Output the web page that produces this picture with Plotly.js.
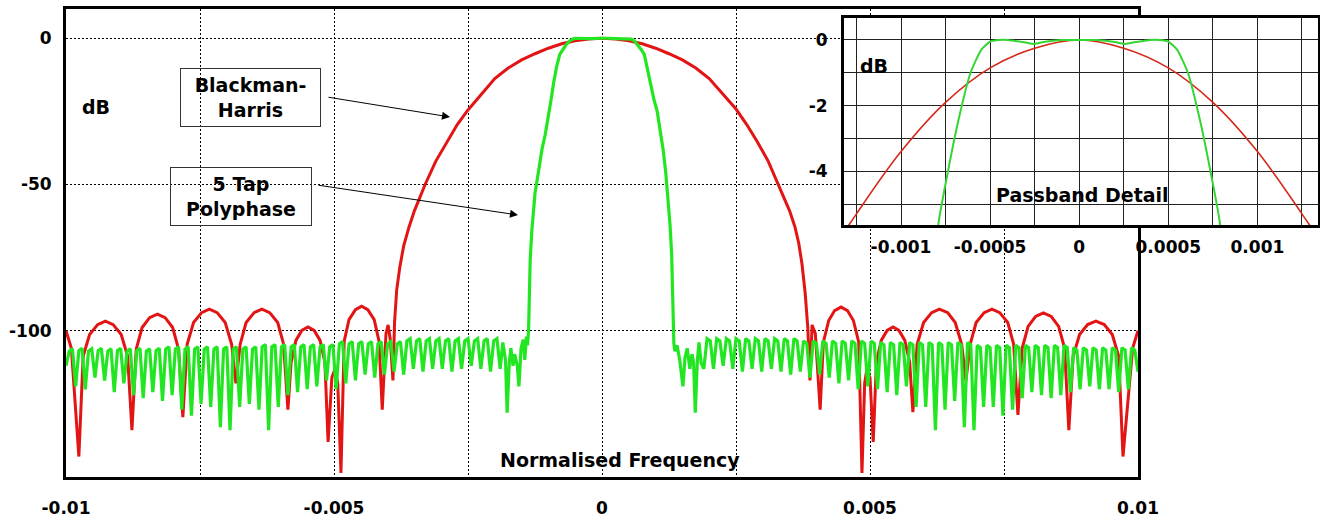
<!DOCTYPE html>
<html>
<head>
<meta charset="utf-8">
<script src="https://cdn.plot.ly/plotly-3.0.1.min.js"></script>
<style>html,body{margin:0;padding:0;background:#fff;}#chart{width:1320px;height:518px;}</style>
</head>
<body>
<div id="chart"></div>
<script>
// ---------------- DATA ----------------
// Blackman-Harris response (dB) vs normalised frequency
const redX = [-0.01, -0.0099, -0.00976,
  -0.00968, -0.00956, -0.00941, -0.009265, -0.00912, -0.00897, -0.00885, -0.00877,
  -0.00869, -0.00858, -0.00844, -0.008295, -0.00815, -0.00801, -0.0079, -0.00782,
  -0.00774, -0.00762, -0.00747, -0.007325, -0.00718, -0.00703, -0.00691, -0.00683,
  -0.00675, -0.00664, -0.00649, -0.006345, -0.0062, -0.00605, -0.00594, -0.00586,
  -0.0058, -0.00571, -0.0056, -0.005485, -0.00537, -0.00526, -0.00517, -0.00511,
  -0.00504, -0.00498, -0.00493, -0.00487,
  -0.00481, -0.00472, -0.0046, -0.004485, -0.00437, -0.00425, -0.00416, -0.0041,
  -0.00403, -0.00399, -0.00395, -0.0039, -0.00387, -0.00383, -0.00377, -0.0037, -0.0036,
  -0.0035, -0.0033, -0.0031, -0.0029, -0.0027, -0.0025, -0.00225, -0.002, -0.00175,
  -0.0015, -0.00125, -0.001, -0.00075, -0.0005, -0.00025, 0,
  0.00025, 0.0005, 0.00075, 0.001, 0.00125, 0.0015, 0.00175, 0.002, 0.00225, 0.0025,
  0.0027, 0.0029, 0.0031, 0.0033, 0.0035, 0.0036, 0.00367, 0.00373, 0.00379, 0.00384,
  0.00388, 0.00392, 0.00398, 0.00407,
  0.00413, 0.00423, 0.00434, 0.00446, 0.00458, 0.00469, 0.00479, 0.00485,
  0.0049, 0.00494, 0.005, 0.00506,
  0.00512, 0.00521, 0.00532, 0.00543, 0.00554, 0.00565, 0.00574, 0.0058,
  0.00588, 0.006, 0.00615, 0.006295, 0.00645, 0.00659, 0.00671, 0.00679,
  0.00687, 0.00698, 0.00713, 0.007275, 0.00742, 0.00757, 0.00768, 0.00776,
  0.00784, 0.00795, 0.00809, 0.008235, 0.00838, 0.00852, 0.00863, 0.00871,
  0.00879, 0.00891, 0.00906, 0.009215, 0.00937, 0.00952, 0.00964, 0.00972,
  0.0099, 0.01];
const redY = [-100, -106, -143,
  -108.7, -101.3, -97.9, -96.7, -97.9, -101.3, -108.7, -134,
  -106.3, -98.9, -95.5, -94.3, -95.5, -98.9, -106.3, -129.5,
  -104.6, -97.2, -93.8, -92.6, -93.8, -97.2, -104.6, -118,
  -104.6, -97.2, -93.8, -92.6, -93.8, -97.2, -104.6, -127,
  -110.7, -103.3, -99.9, -98.7, -99.9, -103.3, -110.7, -138,
  -116, -113, -118, -148.6,
  -103.6, -96.2, -92.8, -91.6, -92.8, -96.2, -103.6, -127,
  -101, -98, -103, -117, -97, -86, -78, -71, -64.5,
  -59, -50, -42, -35.5, -29.5, -24.5, -19, -13.8, -10.2,
  -7.4, -5.3, -3.4, -1.9, -0.85, -0.25, 0,
  -0.25, -0.85, -1.9, -3.4, -5.3, -7.4, -10.2, -13.8, -19, -24.2,
  -29.5, -35.5, -42, -50.5, -59, -64.5, -70, -77, -87, -99,
  -117, -98, -101, -127,
  -103.9, -96.5, -93.1, -91.9, -93.1, -96.5, -103.9, -148.6,
  -118, -113.4, -116, -138,
  -110.7, -103.3, -99.9, -98.7, -99.9, -103.3, -110.7, -127.8,
  -104.6, -97.2, -93.8, -92.6, -93.8, -97.2, -104.6, -117,
  -104.6, -97.2, -93.8, -92.6, -93.8, -97.2, -104.6, -128.8,
  -105.9, -98.5, -95.1, -93.9, -95.1, -98.5, -105.9, -134,
  -108.7, -101.3, -97.9, -96.7, -97.9, -101.3, -108.7, -143,
  -106, -100];

// 5 Tap Polyphase response: left stopband
const greenLeftX = [
  -0.01, -0.00994, -0.00988, -0.00982, -0.00976, -0.0097, -0.00964, -0.00958, -0.00952, -0.00946,
  -0.0094, -0.00934, -0.00928, -0.00922, -0.00916, -0.0091, -0.00904, -0.00898, -0.00892, -0.00886,
  -0.0088, -0.00874, -0.00868, -0.00862, -0.00856, -0.0085, -0.00844, -0.00838, -0.00832, -0.00826,
  -0.0082, -0.00814, -0.00808, -0.00802, -0.00796, -0.0079, -0.00784, -0.00778, -0.00772, -0.00766,
  -0.0076, -0.00754, -0.00748, -0.00742, -0.00736, -0.0073, -0.00724, -0.00718, -0.00712, -0.00706,
  -0.007, -0.00694, -0.00688, -0.00682, -0.00676, -0.0067, -0.00664, -0.00658, -0.00652, -0.00646,
  -0.0064, -0.00634, -0.00628, -0.00622, -0.00616, -0.0061, -0.00604, -0.00598, -0.00592, -0.00586,
  -0.0058, -0.00574, -0.00568, -0.00562, -0.00556, -0.0055, -0.00544, -0.00538, -0.00532, -0.00526,
  -0.0052, -0.00514, -0.00508, -0.00502, -0.00496, -0.0049, -0.00484, -0.00478, -0.00472, -0.00466,
  -0.0046, -0.00454, -0.00448, -0.00442, -0.00436, -0.0043, -0.00424, -0.00418, -0.00412, -0.00406,
  -0.004, -0.00394, -0.00388, -0.00382, -0.00376, -0.0037, -0.00364, -0.00358, -0.00352, -0.00346,
  -0.0034, -0.00334, -0.00328, -0.00322, -0.00316, -0.0031, -0.00304, -0.00298, -0.00292, -0.00286,
  -0.0028, -0.00274, -0.00268, -0.00262, -0.00256, -0.0025, -0.00244, -0.00238, -0.00232, -0.00226,
  -0.0022, -0.00214, -0.00208, -0.00202, -0.00196, -0.0019];
const greenLeftY = [
  -112, -107, -106.2, -119, -106.8, -106, -120, -107, -106.2, -116, -106.8, -106,
  -117, -107, -106.2, -121, -106.8, -106, -118, -107, -106.2, -122, -106.8, -106,
  -123, -107, -106.2, -121, -106.8, -106,
  -124, -106.3, -105.5, -122, -106.3, -105.5, -127, -106.3, -105.5, -129, -106.3, -105.5,
  -125, -106.3, -105.5, -126, -106.3, -105.5, -133, -106.3, -105.5, -134, -106.3, -105.5,
  -126, -106.3, -105.5, -125, -106.3, -105.5,
  -127, -105.5, -104.7, -134, -105.5, -104.7, -126, -105.5, -104.7, -122, -105.5, -104.7,
  -121, -105.5, -104.7, -120, -105.5, -104.7, -119, -105.5, -104.7, -117, -105.5, -104.7,
  -120, -104.5, -103.7, -118, -104.5, -103.7, -117, -104.5, -103.7, -115, -104.5, -103.7,
  -116, -104.5, -103.7, -115, -104.5, -103.7, -114, -104.5, -103.7,
  -115, -103.5, -102.7, -113, -103.5, -102.7, -114, -103.5, -102.7, -113, -103.5, -102.7,
  -113, -103.5, -102.7, -114, -103.5, -102.7, -113, -103.5, -102.7, -112, -103.5, -102.7,
  -113, -103.5, -102.7, -114, -103.5, -102.7,
  -113];

// transition bands and passband
const greenMidX = [
  -0.00185, -0.0018, -0.00177, -0.00173, -0.0017, -0.00166, -0.00163, -0.00158, -0.00155, -0.00151,
  -0.00147, -0.00144, -0.00141, -0.00139, -0.00137, -0.00136, -0.00134, -0.00131, -0.00125, -0.00118,
  -0.00112, -0.00106, -0.001, -0.00095, -0.0009, -0.00085, -0.00079, -0.00074, -0.00068, -0.00061,
  -0.00055, -0.0005, -0.00045, -0.0004, -0.0003, -0.00025, -0.0002, -0.0001, 0, 0.0001,
  0.0002, 0.00025, 0.0003, 0.0004, 0.00045, 0.0005, 0.00055, 0.00061, 0.00068, 0.00074,
  0.00079, 0.00084, 0.0009, 0.00097, 0.00103, 0.00109, 0.00114, 0.00119, 0.00123, 0.00127,
  0.0013, 0.00132, 0.00133, 0.00134, 0.00136, 0.0014, 0.00145, 0.00151, 0.00155, 0.00159,
  0.00164, 0.00168, 0.00171, 0.00174, 0.00178, 0.00181, 0.00185];
const greenMidY = [
  -104, -110, -128, -111, -106, -112, -108, -112, -119, -106,
  -103, -110, -102, -105, -100, -87, -76, -66, -53, -45,
  -38, -33, -27, -21, -15, -10, -5.6, -4.1, -2.5, -1.0,
  -0.3, -0.05, 0, 0, -0.08, -0.12, -0.06, 0, 0, 0,
  -0.06, -0.12, -0.08, 0, 0, -0.05, -0.3, -1.0, -2.5, -4.1,
  -5.6, -10, -16, -21, -25, -32, -38, -46, -54, -64,
  -74, -86, -100, -104, -107, -105, -110, -119, -109, -106,
  -113, -108, -111, -128, -110, -104, -111];

// right stopband
const greenRightX = [
  0.0019, 0.00196, 0.00202, 0.00208, 0.00214, 0.0022, 0.00226, 0.00232, 0.00238, 0.00244,
  0.0025, 0.00256, 0.00262, 0.00268, 0.00274, 0.0028, 0.00286, 0.00292, 0.00298, 0.00304,
  0.0031, 0.00316, 0.00322, 0.00328, 0.00334, 0.0034, 0.00346, 0.00352, 0.00358, 0.00364,
  0.0037, 0.00376, 0.00382, 0.00388, 0.00394, 0.004, 0.00406, 0.00412, 0.00418, 0.00424,
  0.0043, 0.00436, 0.00442, 0.00448, 0.00454, 0.0046, 0.00466, 0.00472, 0.00478, 0.00484,
  0.0049, 0.00496, 0.00502, 0.00508, 0.00514, 0.0052, 0.00526, 0.00532, 0.00538, 0.00544,
  0.0055, 0.00556, 0.00562, 0.00568, 0.00574, 0.0058, 0.00586, 0.00592, 0.00598, 0.00604,
  0.0061, 0.00616, 0.00622, 0.00628, 0.00634, 0.0064, 0.00646, 0.00652, 0.00658, 0.00664,
  0.0067, 0.00676, 0.00682, 0.00688, 0.00694, 0.007, 0.00706, 0.00712, 0.00718, 0.00724,
  0.0073, 0.00736, 0.00742, 0.00748, 0.00754, 0.0076, 0.00766, 0.00772, 0.00778, 0.00784,
  0.0079, 0.00796, 0.00802, 0.00808, 0.00814, 0.0082, 0.00826, 0.00832, 0.00838, 0.00844,
  0.0085, 0.00856, 0.00862, 0.00868, 0.00874, 0.0088, 0.00886, 0.00892, 0.00898, 0.00904,
  0.0091, 0.00916, 0.00922, 0.00928, 0.00934, 0.0094, 0.00946, 0.00952, 0.00958, 0.00964,
  0.0097, 0.00976, 0.00982, 0.00988, 0.00994, 0.01];
const greenRightY = [
  -113, -102.7, -103.5, -113, -102.7, -103.5, -112, -102.7, -103.5, -113, -102.7, -103.5,
  -114, -102.7, -103.5, -113, -102.7, -103.5, -114, -102.7, -103.5, -113, -102.7, -103.5,
  -114, -102.7, -103.5, -115, -102.7, -103.5,
  -114, -103.5, -104.3, -116, -103.5, -104.3, -115, -103.5, -104.3, -116, -103.5, -104.3,
  -118, -103.5, -104.3, -117, -103.5, -104.3, -120, -103.5, -104.3, -119, -103.5, -104.3,
  -120, -104, -104.8, -121, -104, -104.8, -122, -104, -104.8, -119, -104, -104.8,
  -126, -104, -104.8, -126, -104, -104.8, -134, -104, -104.8, -127, -104, -104.8,
  -124, -104, -104.8, -133, -104, -104.8,
  -134, -105, -105.8, -126, -105, -105.8, -126, -105, -105.8, -129, -105, -105.8,
  -127, -105, -105.8, -123, -105, -105.8, -121, -105, -105.8, -122, -105, -105.8,
  -123, -105, -105.8, -122, -105, -105.8,
  -121, -105.8, -106.6, -120, -105.8, -106.6, -119, -105.8, -106.6, -120, -105.8, -106.6,
  -120, -105.8, -106.6, -121, -105.8, -106.6, -120, -105.8, -106.6,
  -114];

// axis ticks and labels
const mainXTicks = [-0.01, -0.0075, -0.005, -0.0025, 0, 0.0025, 0.005, 0.0075, 0.01];
const mainXLabels = ['-0.01', '', '-0.005', '', '0', '', '0.005', '', '0.01'];
const mainYTicks = [-100, -50, 0];
const mainYLabels = ['-100', '-50', '0'];
const insetXTicks = [-0.00125, -0.001, -0.00075, -0.0005, -0.00025, 0, 0.00025, 0.0005, 0.00075, 0.001, 0.00125];
const insetXLabels = ['', '-0.001', '', '-0.0005', '', '0', '', '0.0005', '', '0.001', ''];
const insetYTicks = [-5, -4, -3, -2, -1, 0];
const insetYLabels = ['', '-4', '', '-2', '', '0'];

// ---------------- CHART ----------------
const greenX = greenLeftX.concat(greenMidX, greenRightX);
const greenY = greenLeftY.concat(greenMidY, greenRightY);

const RED = '#e31414', GREEN = '#22e622';
const FONT = 'DejaVu Sans, Liberation Sans, Arial, sans-serif';

const traces = [
  {x: redX, y: redY, type: 'scatter', mode: 'lines', xaxis: 'x', yaxis: 'y',
   line: {color: RED, width: 3}, hoverinfo: 'skip', name: 'Blackman-Harris'},
  {x: greenX, y: greenY, type: 'scatter', mode: 'lines', xaxis: 'x', yaxis: 'y',
   line: {color: GREEN, width: 3.2}, hoverinfo: 'skip', name: '5 Tap Polyphase'},
  {x: redX, y: redY, type: 'scatter', mode: 'lines', xaxis: 'x2', yaxis: 'y2',
   line: {color: '#d42a1a', width: 1.6, shape: 'spline', smoothing: 1}, hoverinfo: 'skip'},
  {x: greenX, y: greenY, type: 'scatter', mode: 'lines', xaxis: 'x2', yaxis: 'y2',
   line: {color: '#33d633', width: 2, shape: 'spline', smoothing: 0.5}, hoverinfo: 'skip'}
];

const tickFont = {family: FONT, size: 17, color: '#000', weight: 'bold'};
const labelFont = {family: FONT, size: 19, color: '#000', weight: 'bold'};

function label(x, y, text, extra) {
  return Object.assign({xref: 'paper', yref: 'paper', x: x, y: y, text: text, showarrow: false,
    xanchor: 'center', yanchor: 'middle', font: labelFont}, extra || {});
}

const layout = {
  width: 1320, height: 518,
  margin: {l: 66, r: 0, t: 9, b: 41},
  paper_bgcolor: '#fff', plot_bgcolor: '#fff',
  showlegend: false,
  xaxis: {
    domain: [0, 0.85486], range: [-0.01, 0.01], anchor: 'y',
    tickmode: 'array', tickvals: mainXTicks, ticktext: mainXLabels,
    tickfont: tickFont, ticks: '', ticklabelstandoff: 14,
    showgrid: true, gridcolor: '#000', gridwidth: 1, griddash: '2px,2px',
    zeroline: false, showline: true, mirror: true, linecolor: '#000', linewidth: 3
  },
  yaxis: {
    domain: [0, 1], range: [-150, 10], anchor: 'x',
    tickmode: 'array', tickvals: mainYTicks, ticktext: mainYLabels,
    tickfont: tickFont, ticks: '', ticklabelstandoff: 8,
    showgrid: true, gridcolor: '#000', gridwidth: 1, griddash: '2px,2px',
    zeroline: false, showline: true, mirror: true, linecolor: '#000', linewidth: 3
  },
  xaxis2: {
    domain: [0.62041, 0.99841], range: [-0.00132, 0.00134], anchor: 'y2',
    tickmode: 'array', tickvals: insetXTicks, ticktext: insetXLabels,
    tickfont: tickFont, ticks: '', ticklabelstandoff: 5,
    showgrid: true, gridcolor: '#222', gridwidth: 1,
    zeroline: false, showline: true, mirror: true, linecolor: '#000', linewidth: 3
  },
  yaxis2: {
    domain: [0.53846, 0.98077], range: [-5.64, 0.67], anchor: 'x2',
    tickmode: 'array', tickvals: insetYTicks, ticktext: insetYLabels,
    tickfont: tickFont, ticks: '', ticklabelstandoff: 10,
    showgrid: true, gridcolor: '#222', gridwidth: 1,
    zeroline: false, showline: true, mirror: true, linecolor: '#000', linewidth: 3
  },
  annotations: [
    label(0.02392, 0.79060, 'dB'),
    label(0.44179, 0.03632, 'Normalised Frequency'),
    label(0.64434, 0.87821, 'dB'),
    label(0.81021, 0.60256, 'Passband Detail'),
    label(0.14713, 0.81090, 'Blackman-<br>Harris',
      {bordercolor: '#333', borderwidth: 1, borderpad: 0, width: 139, height: 57, bgcolor: 'rgba(0,0,0,0)'}),
    label(0.13955, 0.59936, '5 Tap<br>Polyphase',
      {bordercolor: '#333', borderwidth: 1, borderpad: 0, width: 140, height: 57, bgcolor: 'rgba(0,0,0,0)'}),
    {xref: 'paper', yref: 'paper', x: 0.30622, y: 0.76923, ax: -123, ay: -20, text: '', showarrow: true,
     arrowhead: 2, arrowsize: 1.6, arrowwidth: 1, arrowcolor: '#000'},
    {xref: 'paper', yref: 'paper', x: 0.36045, y: 0.55983, ax: -201, ay: -30, text: '', showarrow: true,
     arrowhead: 2, arrowsize: 1.6, arrowwidth: 1, arrowcolor: '#000'}
  ]
};

Plotly.newPlot('chart', traces, layout, {displayModeBar: false, staticPlot: true});
</script>
</body>
</html>
